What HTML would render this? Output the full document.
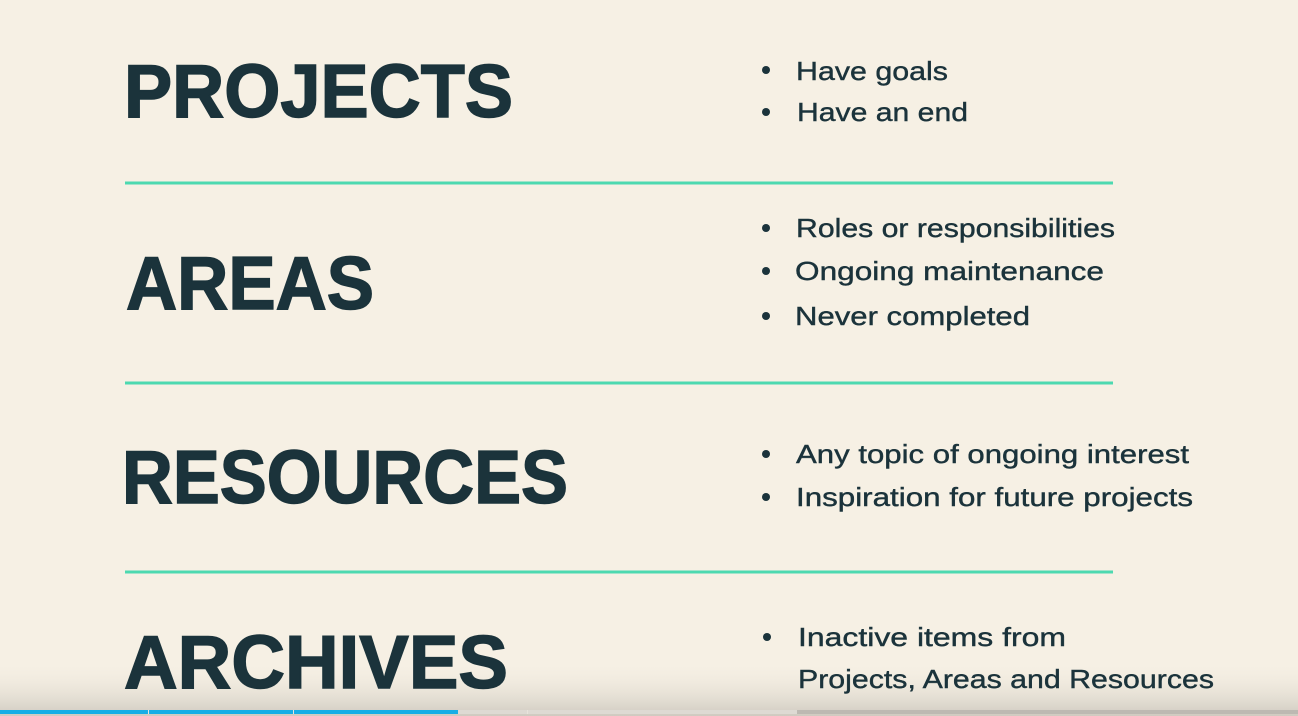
<!DOCTYPE html>
<html><head><meta charset="utf-8"><style>
html,body{margin:0;padding:0;background:#f6f0e4;}
svg{display:block}
</style></head><body>
<svg width="1298" height="716" viewBox="0 0 1298 716" xmlns="http://www.w3.org/2000/svg">
<defs><linearGradient id="sh" x1="0" y1="0" x2="0" y2="1">
<stop offset="0" stop-color="#f6f0e4" stop-opacity="0"/><stop offset="1" stop-color="#cfcac0"/></linearGradient></defs>
<rect width="1298" height="716" fill="#f6f0e4"/>
<rect x="0" y="660" width="1298" height="56" fill="url(#sh)"/>
<g font-family="Liberation Sans, sans-serif" font-weight="bold" font-size="75" fill="#1b333b" stroke="#1b333b" stroke-width="1.5">
<text x="124" y="117" textLength="389" lengthAdjust="spacingAndGlyphs">PROJECTS</text>
<text x="126" y="309" textLength="248" lengthAdjust="spacingAndGlyphs">AREAS</text>
<text x="122" y="503" textLength="446" lengthAdjust="spacingAndGlyphs">RESOURCES</text>
<text x="124" y="688" textLength="384" lengthAdjust="spacingAndGlyphs">ARCHIVES</text>
</g>
<g fill="#4dd9b0">
<rect x="125" y="181.5" width="988" height="3"/>
<rect x="125" y="381.5" width="988" height="3"/>
<rect x="125" y="570.5" width="988" height="3"/>
</g>
<g fill="#1b333b">
<circle cx="766" cy="70" r="4"/><circle cx="766" cy="112" r="4"/>
<circle cx="766" cy="228" r="4"/><circle cx="766" cy="271" r="4"/><circle cx="766" cy="316" r="4"/>
<circle cx="766" cy="454" r="4"/><circle cx="766" cy="497" r="4"/>
<circle cx="767" cy="637" r="4"/>
</g>
<g font-family="Liberation Sans, sans-serif" font-size="26" fill="#1b333b" stroke="#1b333b" stroke-width="0.4">
<text x="796" y="80" textLength="152" lengthAdjust="spacingAndGlyphs">Have goals</text>
<text x="797" y="121" textLength="171" lengthAdjust="spacingAndGlyphs">Have an end</text>
<text x="796" y="237" textLength="319" lengthAdjust="spacingAndGlyphs">Roles or responsibilities</text>
<text x="795" y="280" textLength="309" lengthAdjust="spacingAndGlyphs">Ongoing maintenance</text>
<text x="795" y="325" textLength="235" lengthAdjust="spacingAndGlyphs">Never completed</text>
<text x="796" y="463" textLength="393" lengthAdjust="spacingAndGlyphs">Any topic of ongoing interest</text>
<text x="796" y="506" textLength="397" lengthAdjust="spacingAndGlyphs">Inspiration for future projects</text>
<text x="798" y="646" textLength="268" lengthAdjust="spacingAndGlyphs">Inactive items from</text>
<text x="798" y="688" textLength="416" lengthAdjust="spacingAndGlyphs">Projects, Areas and Resources</text>
</g>
<rect x="0" y="710" width="1298" height="4" fill="#bdb9b2"/>
<rect x="266" y="710" width="531" height="4" fill="#dedad3"/>
<rect x="0" y="710" width="458" height="4" fill="#17aee6"/>
<rect x="148" y="710" width="1" height="4" fill="#e8e4dc"/>
<rect x="293" y="710" width="1" height="4" fill="#e8e4dc"/>
<rect x="527" y="710" width="1" height="4" fill="#e8e4dc"/>
</svg>
</body></html>
